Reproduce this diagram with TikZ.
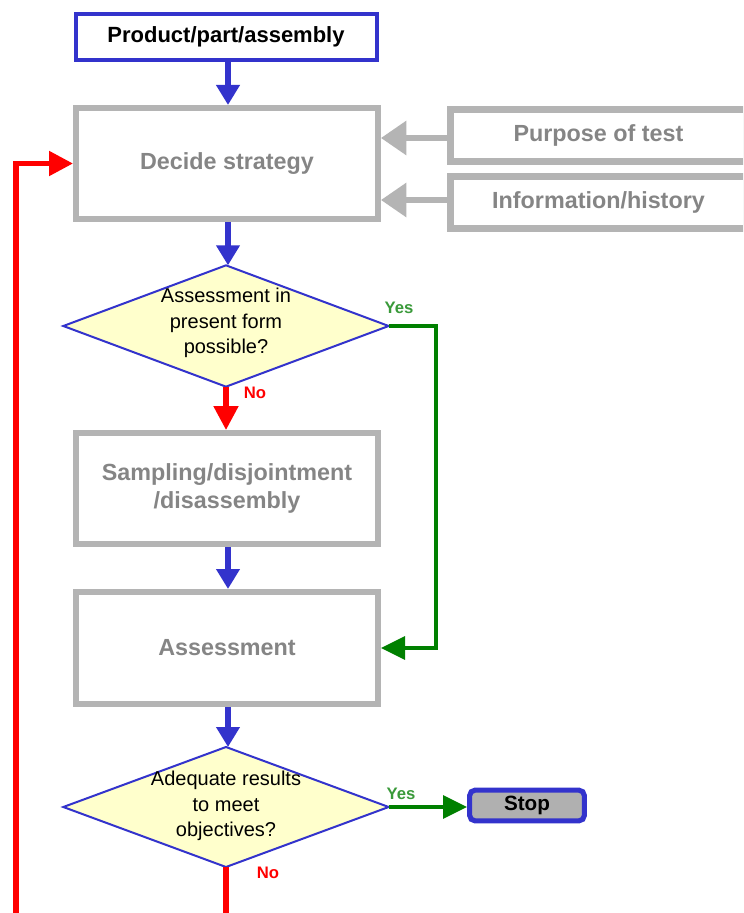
\documentclass[tikz,border=0pt]{standalone}
\usepackage{fontspec}
\setmainfont{Liberation Sans}
\usetikzlibrary{arrows.meta,shapes.geometric}
\definecolor{flowblue}{HTML}{3333CC}
\definecolor{boxgray}{HTML}{B4B4B4}
\definecolor{textgray}{HTML}{858585}
\definecolor{decfill}{HTML}{FFFFCC}
\definecolor{yesline}{HTML}{008000}
\definecolor{yestext}{HTML}{3A9A3A}
\definecolor{nored}{HTML}{FF0000}
\definecolor{stopfill}{HTML}{B0B0B0}
\tikzset{
  graybox/.style={draw=boxgray, line width=4.5pt, minimum width=226.5pt,
    text=textgray, font=\fontsize{17.5}{21.5}\selectfont\bfseries, align=center, inner sep=0pt},
  sidebox/.style={draw=boxgray, line width=5pt, minimum width=222pt, minimum height=39pt,
    text=textgray, font=\fontsize{17.5}{21}\selectfont\bfseries, inner sep=0pt},
  topbox/.style={draw=flowblue, line width=3pt, minimum width=225.75pt, minimum height=34.5pt,
    font=\fontsize{16.5}{20}\selectfont\bfseries, inner sep=0pt},
  decbox/.style={diamond, draw=flowblue, line width=1.5pt, fill=decfill,
    minimum width=244pt, minimum height=91pt, inner sep=0pt, outer sep=0pt},
  dectext/.style={align=center, font=\fontsize{15}{19.2}\selectfont, inner sep=0pt},
  stopbox/.style={draw=flowblue, line width=3.8pt, fill=stopfill, rounded corners=4pt,
    minimum width=86pt, minimum height=23pt, font=\fontsize{15.5}{18}\selectfont\bfseries, inner sep=0pt},
  bluearrow/.style={draw=flowblue, line width=4.5pt, -{Triangle[length=15pt,width=17pt]}},
  grayarrow/.style={draw=boxgray, line width=3.8pt, -{Triangle[length=19pt,width=25pt]}},
  greenarrow/.style={draw=yesline, line width=3pt, -{Triangle[length=18pt,width=17pt]}},
  redarrow/.style={draw=nored, line width=3.8pt, -{Triangle[length=18pt,width=18pt]}},
  yeslabel/.style={text=yestext, font=\fontsize{12.5}{14}\selectfont\bfseries, inner sep=0pt},
  nolabel/.style={text=nored, font=\fontsize{12.5}{14}\selectfont\bfseries, inner sep=0pt},
}
\begin{document}
\begin{tikzpicture}[x=0.75pt, y=-0.75pt]
  \useasboundingbox (0,0) rectangle (743,913);
  \clip (0,0) rectangle (743,913);
  \fill[white] (0,0) rectangle (743,913);

  % main column
  \node[topbox] (prod) at (226,37) {Product/part/assembly};
  \node[graybox, minimum height=83.25pt] (decide) at (227,163.5) {Decide strategy};
  \node[sidebox] (purpose) at (598.5,135.75) {Purpose of test};
  \node[sidebox] (info) at (598.5,202.5) {Information/history};

  \node[decbox] (d1) at (226,326) {};
  \node[dectext] (d1t) at (226,323) {Assessment in\\present form\\possible?};

  \node[graybox, minimum height=83.25pt] (samp) at (227,488.5) {Sampling/disjointment\\/disassembly};
  \node[graybox, minimum height=84pt] (assess) at (227,648) {Assessment};

  \node[decbox, minimum height=90pt] (d2) at (226,807) {};
  \node[dectext] (d2t) at (226,806) {Adequate results\\to meet\\objectives?};

  \node[stopbox] (stop) at (527,805.5) {Stop};

  % helper points for the return loop
  \coordinate (bottom) at (0,960);
  \coordinate (leftx) at (16,0);

  % connectors
  \draw[bluearrow] (prod.south -| 228,0) -- (decide.north -| 228,0);
  \draw[grayarrow] (purpose.west |- 0,138) -- (decide.east |- 0,138);
  \draw[grayarrow] (info.west |- 0,200) -- (decide.east |- 0,200);
  \draw[bluearrow] (decide.south -| 228,0) -- (d1.north -| 228,0);
  \draw[redarrow] (d1.south) -- (samp.north -| d1.south);
  \draw[bluearrow] (samp.south -| 228,0) -- (assess.north -| 228,0);
  \draw[greenarrow] (d1.east) -| (436,500) |- (assess.east);
  \draw[bluearrow] (assess.south -| 228,0) -- (d2.north -| 228,0);
  \draw[greenarrow] (d2.east) -- (d2.east -| stop.west);
  \draw[redarrow] (d2.south) -- (d2.south |- bottom) -| (decide.west -| leftx) -- (decide.west);

  % branch labels
  \node[yeslabel] (y1) at (399,308) {Yes};
  \node[nolabel] (n1) at (255,393) {No};
  \node[yeslabel] (y2) at (401,794) {Yes};
  \node[nolabel] (n2) at (268,873) {No};
\end{tikzpicture}
\end{document}
